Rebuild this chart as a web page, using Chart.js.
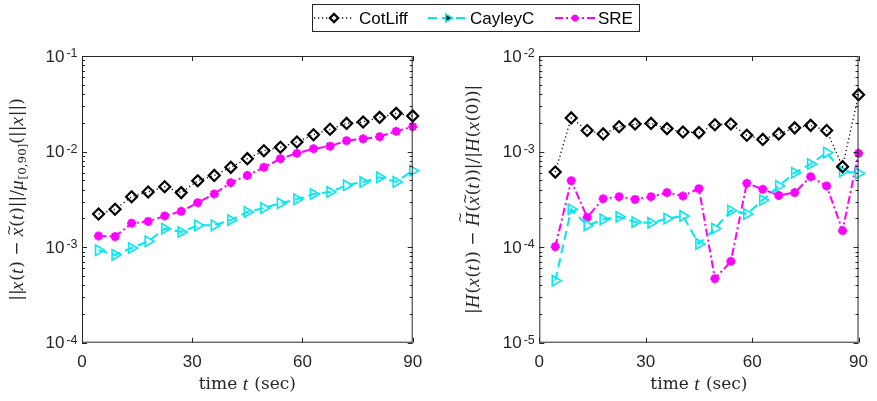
<!DOCTYPE html>
<html>
<head>
<meta charset="utf-8">
<script src="https://cdn.jsdelivr.net/npm/chart.js@4"></script>
<style>
  body { margin: 0; background: #fff; }
  #wrap { position: relative; width: 877px; height: 401px; }
  canvas { position: absolute; left: 0; top: 0; }
</style>
</head>
<body>
<div id="wrap">
  <canvas id="leftChart" width="877" height="401"></canvas>
  <canvas id="rightChart" width="877" height="401"></canvas>
</div>
<script>
// time samples (sec)
var times = [4.5, 9, 13.5, 18, 22.5, 27, 31.5, 36, 40.5, 45, 49.5, 54, 58.5, 63, 67.5, 72, 76.5, 81, 85.5, 90];
var xTicks = [0, 30, 60, 90];

// left panel: relative state error
var cotLiffErr = [2.22e-3, 2.49e-3, 3.37e-3, 3.78e-3, 4.29e-3, 3.72e-3, 4.95e-3, 5.63e-3, 6.84e-3, 8.43e-3,
                  1.02e-2, 1.11e-2, 1.26e-2, 1.50e-2, 1.71e-2, 1.97e-2, 2.04e-2, 2.28e-2, 2.51e-2, 2.36e-2];
var cayleyErr  = [9.3e-4, 8.3e-4, 9.8e-4, 1.15e-3, 1.56e-3, 1.44e-3, 1.69e-3, 1.69e-3, 1.92e-3, 2.33e-3,
                  2.57e-3, 2.88e-3, 3.17e-3, 3.60e-3, 3.78e-3, 4.44e-3, 4.81e-3, 5.38e-3, 4.81e-3, 6.31e-3];
var sreErr     = [1.31e-3, 1.29e-3, 1.78e-3, 1.86e-3, 2.12e-3, 2.37e-3, 2.92e-3, 3.60e-3, 4.73e-3, 5.63e-3,
                  6.84e-3, 8.43e-3, 9.6e-3, 1.07e-2, 1.14e-2, 1.30e-2, 1.36e-2, 1.43e-2, 1.63e-2, 1.82e-2];

// right panel: relative energy error
var cotLiffH = [6.1e-4, 2.25e-3, 1.66e-3, 1.53e-3, 1.82e-3, 1.94e-3, 1.97e-3, 1.74e-3, 1.60e-3, 1.58e-3,
                1.91e-3, 1.94e-3, 1.48e-3, 1.34e-3, 1.53e-3, 1.77e-3, 1.88e-3, 1.66e-3, 6.95e-4, 3.94e-3];
var cayleyH  = [4.46e-5, 2.49e-4, 1.69e-4, 1.95e-4, 2.08e-4, 1.83e-4, 1.80e-4, 1.99e-4, 2.12e-4, 1.08e-4,
                1.56e-4, 2.41e-4, 2.22e-4, 3.11e-4, 4.37e-4, 6.0e-4, 7.41e-4, 9.75e-4, 6.2e-4, 5.92e-4];
var sreH     = [1.01e-4, 4.96e-4, 2.05e-4, 3.21e-4, 3.37e-4, 3.16e-4, 3.37e-4, 3.72e-4, 3.43e-4, 4.09e-4,
                4.68e-5, 7.1e-5, 4.66e-4, 4.03e-4, 3.48e-4, 3.72e-4, 5.46e-4, 4.37e-4, 1.49e-4, 9.6e-4];

var seriesNames = ['CotLiff', 'CayleyC', 'SRE'];

var axisColor = '#262626';
var sansFont = '"Liberation Sans", Arial, sans-serif';
var serifFont = '"DejaVu Serif", "Liberation Serif", serif';
var italicFont = '"Liberation Serif", serif';
var CYAN = 'rgb(0,232,242)';
var MAGENTA = '#ff00ff';

// line / marker styles per series
var styles = [
  { color: '#000000', dash: [1.2, 2.8], width: 1.3, point: 'rectRot', radius: 5.5, pw: 2.2, rot: 0 },
  { color: CYAN, dash: [9, 5], width: 2, point: 'triangle', radius: 6, pw: 1.6, rot: 90 },
  { color: MAGENTA, dash: [8, 3, 2, 3], width: 2, point: 'star', radius: 4.5, pw: 2.6, rot: 0 }
];

function makeDataset(i, values) {
  var s = styles[i];
  return {
    label: seriesNames[i],
    data: times.map(function (t, k) { return { x: t, y: values[k] }; }),
    borderColor: s.color,
    borderWidth: s.width,
    borderDash: s.dash,
    pointStyle: s.point,
    pointRadius: s.radius,
    pointBorderWidth: s.pw,
    pointRotation: s.rot,
    pointBorderColor: s.color,
    pointBackgroundColor: i === 2 ? s.color : 'rgba(0,0,0,0)',
    tension: 0,
    clip: false
  };
}

// draw text made of pieces (italic / subscript / tilde), optionally rotated
function pieceFont(p, size) {
  if (p.it) return 'italic ' + (size * 1.12) + 'px ' + italicFont;
  return (p.sub ? size * 0.7 : size) + 'px ' + serifFont;
}
function drawPieces(ctx, pieces, cx, cy, size, vertical) {
  var total = 0;
  pieces.forEach(function (p) {
    ctx.font = pieceFont(p, size);
    p.w = ctx.measureText(p.t).width + (p.gap || 0) + (p.it ? 1 : 0);
    total += p.w;
  });
  ctx.save();
  ctx.translate(cx, cy);
  if (vertical) ctx.rotate(-Math.PI / 2);
  ctx.fillStyle = axisColor;
  ctx.textBaseline = 'middle';
  ctx.textAlign = 'left';
  var x = -total / 2;
  pieces.forEach(function (p) {
    ctx.font = pieceFont(p, size);
    ctx.fillText(p.t, x, p.sub ? size * 0.3 : 0);
    if (p.tilde) {
      ctx.font = (size * 0.75) + 'px ' + serifFont;
      ctx.textAlign = 'center';
      ctx.fillText('~', x + p.w / 2 + size * 0.08, p.tildeY || -size * 0.5);
      ctx.textAlign = 'left';
    }
    x += p.w;
  });
  ctx.restore();
}

// axes box, inward ticks, power-of-ten labels, axis titles
var framePlugin = {
  id: 'frame',
  afterDraw: function (chart, args, opts) {
    var ctx = chart.ctx;
    var a = chart.chartArea;
    var xs = chart.scales.x, ys = chart.scales.y;
    ctx.save();
    ctx.strokeStyle = axisColor;
    ctx.lineWidth = 1;
    ctx.strokeRect(a.left + 0.5, a.top + 0.5, a.right - a.left - 1, a.bottom - a.top - 1);
    ctx.beginPath();
    xTicks.forEach(function (v) {
      var px = Math.round(xs.getPixelForValue(v)) + 0.5;
      ctx.moveTo(px, a.bottom); ctx.lineTo(px, a.bottom - 5);
      ctx.moveTo(px, a.top); ctx.lineTo(px, a.top + 5);
    });
    for (var e = opts.minExp; e < opts.maxExp; e++) {
      for (var m = 1; m <= 9; m++) {
        var py = Math.round(ys.getPixelForValue(m * Math.pow(10, e))) + 0.5;
        var len = m === 1 ? 5 : 3;
        ctx.moveTo(a.left, py); ctx.lineTo(a.left + len, py);
        ctx.moveTo(a.right, py); ctx.lineTo(a.right - len, py);
      }
    }
    ctx.stroke();

    // y tick labels 10^k
    ctx.fillStyle = axisColor;
    for (var k = opts.minExp; k <= opts.maxExp; k++) {
      var ty = ys.getPixelForValue(Math.pow(10, k));
      var sup = String(k);
      ctx.font = '12.5px ' + sansFont;
      var ws = ctx.measureText(sup).width;
      ctx.font = '17px ' + sansFont;
      var wb = ctx.measureText('10').width;
      var right = a.left - 4.5;
      ctx.textAlign = 'left';
      ctx.textBaseline = 'middle';
      ctx.fillText('10', right - ws - 2 - wb, ty + 1);
      ctx.font = '12.5px ' + sansFont;
      ctx.textBaseline = 'top';
      ctx.fillText(sup, right - ws, ty - 8.5);
    }

    drawPieces(ctx, opts.yTitle, opts.yTitleX, (a.top + a.bottom) / 2, 17, true);
    drawPieces(ctx, [{ t: 'time ' }, { t: 't', it: true }, { t: ' (sec)' }],
      (a.left + a.right) / 2, 385, 17, false);
    ctx.restore();
  }
};

// shared legend across the top
var legendPlugin = {
  id: 'sharedLegend',
  afterDraw: function (chart, args, opts) {
    if (!opts.show) return;
    var ctx = chart.ctx;
    ctx.save();
    ctx.strokeStyle = axisColor;
    ctx.lineWidth = 1;
    ctx.fillStyle = '#fff';
    ctx.fillRect(312.5, 4.5, 327, 27);
    ctx.strokeRect(312.5, 4.5, 327, 27);
    var cy = 18;
    var entries = [{ x0: 314, text: 359 }, { x0: 428, text: 470 }, { x0: 555, text: 598 }];
    entries.forEach(function (en, i) {
      var s = styles[i];
      ctx.strokeStyle = s.color;
      ctx.lineWidth = s.width;
      ctx.setLineDash(s.dash);
      ctx.beginPath();
      ctx.moveTo(en.x0, cy); ctx.lineTo(en.x0 + 40, cy);
      ctx.stroke();
      ctx.setLineDash([]);
      ctx.lineWidth = s.pw;
      Chart.helpers.drawPoint(ctx, {
        pointStyle: s.point, radius: s.radius * 0.75, rotation: s.rot, borderWidth: s.pw
      }, en.x0 + 20, cy);
      if (i === 2) { ctx.fillStyle = s.color; ctx.fill(); }
      ctx.fillStyle = '#000';
      ctx.font = '17px ' + sansFont;
      ctx.textAlign = 'left';
      ctx.textBaseline = 'middle';
      ctx.fillText(seriesNames[i], en.text, cy + 1);
    });
    ctx.restore();
  }
};

function makeChart(id, sets, yMin, yMax, padLeft, padRight, yWidth, frameOpts, showLegend) {
  var ctx = document.getElementById(id).getContext('2d');
  return new Chart(ctx, {
    type: 'line',
    data: { datasets: sets },
    options: {
      responsive: false,
      animation: false,
      layout: { padding: { left: padLeft, right: padRight, top: 56, bottom: 0 } },
      plugins: {
        legend: { display: false },
        tooltip: { enabled: false },
        frame: frameOpts,
        sharedLegend: { show: showLegend }
      },
      scales: {
        x: {
          type: 'linear',
          min: 0, max: 90,
          afterBuildTicks: function (scale) { scale.ticks = xTicks.map(function (v) { return { value: v }; }); },
          afterFit: function (scale) { scale.height = 58.3; },
          grid: { display: false, drawTicks: false },
          border: { display: false },
          ticks: { color: axisColor, font: { family: sansFont, size: 17 }, padding: 9, autoSkip: false, maxRotation: 0 }
        },
        y: {
          type: 'logarithmic',
          min: yMin, max: yMax,
          afterFit: function (scale) { scale.width = yWidth; },
          grid: { display: false, drawTicks: false },
          border: { display: false },
          ticks: { display: false }
        }
      }
    },
    plugins: [framePlugin, legendPlugin]
  });
}

var leftTitle = [
  { t: '||', gap: -1 }, { t: 'x', it: true }, { t: '(' }, { t: 't', it: true }, { t: ') \u2212 ' },
  { t: 'x', it: true, tilde: true }, { t: '(' }, { t: 't', it: true }, { t: ')||/' },
  { t: '\u03bc', it: true }, { t: '[0,90]', sub: true }, { t: '(||' }, { t: 'x', it: true }, { t: '||)' }
];
var rightTitle = [
  { t: '|' }, { t: 'H', it: true }, { t: '(' }, { t: 'x', it: true }, { t: '(' }, { t: 't', it: true },
  { t: ')) \u2212 ' }, { t: 'H', it: true, tilde: true, tildeY: -13 }, { t: '(' },
  { t: 'x', it: true, tilde: true }, { t: '(' },
  { t: 't', it: true }, { t: '))|/|' }, { t: 'H', it: true }, { t: '(' }, { t: 'x', it: true }, { t: '(0))|' }
];

makeChart('leftChart',
  [makeDataset(0, cotLiffErr), makeDataset(1, cayleyErr), makeDataset(2, sreErr)],
  1e-4, 1e-1, 0, 877 - 412.7, 82,
  { minExp: -4, maxExp: -1, yTitle: leftTitle, yTitleX: 18 }, true);

makeChart('rightChart',
  [makeDataset(0, cotLiffH), makeDataset(1, cayleyH), makeDataset(2, sreH)],
  1e-5, 1e-2, 440, 7, 99.3,
  { minExp: -5, maxExp: -2, yTitle: rightTitle, yTitleX: 474 }, false);
</script>
</body>
</html>
